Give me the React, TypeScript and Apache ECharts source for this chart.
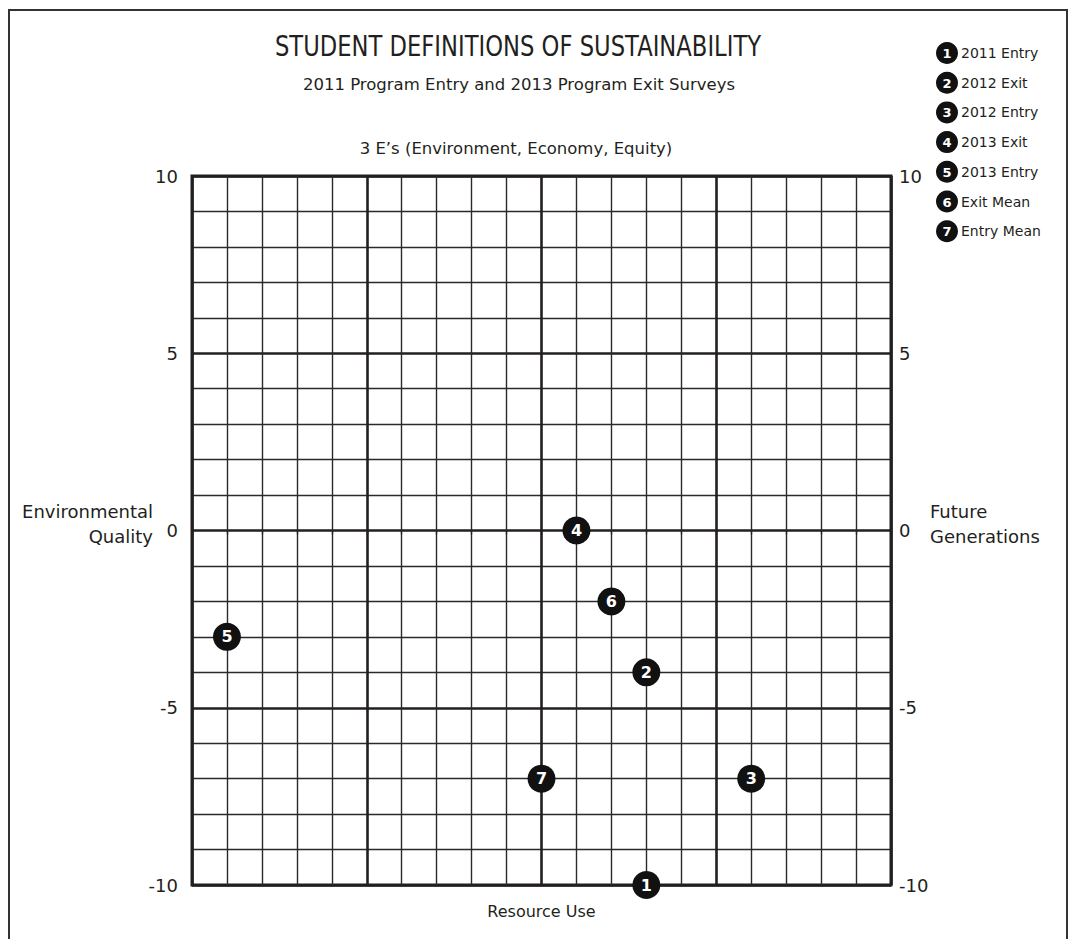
import React, { useEffect, useRef } from "react";
import * as echarts from "echarts";

const pointLabels = ["1", "2", "3", "4", "5", "6", "7"];
const legendNames = ["2011 Entry", "2012 Exit", "2012 Entry", "2013 Exit", "2013 Entry", "Exit Mean", "Entry Mean"];
const xValues = [3, 3, 6, 1, -9, 2, 0];
const yValues = [-10, -4, -7, 0, -3, -2, -7];
const axisMin = -10;
const axisMax = 10;
const majorStep = 5;

const FONT = "DejaVu Sans";
const INK = "#231f20";

export default function App() {
  const ref = useRef<HTMLDivElement>(null);
  useEffect(() => {
    if (!ref.current) return;
    const chart = echarts.init(ref.current, null, { renderer: "svg" });
    const data = xValues.map((x, i) => ({ value: [x, yValues[i]], name: legendNames[i], label: pointLabels[i] }));

    const legendGraphics: any[] = [];
    legendNames.forEach((n, i) => {
      const cy = 53 + i * 29.7;
      legendGraphics.push({ type: "circle", shape: { cx: 947, cy, r: 11 }, style: { fill: "#111" }, z: 10 });
      legendGraphics.push({
        type: "text", x: 947, y: cy + 0.5,
        style: { text: pointLabels[i], fill: "#fff", font: `bold 13px "${FONT}"`, textAlign: "center", textVerticalAlign: "middle" }, z: 11,
      });
      legendGraphics.push({
        type: "text", x: 961, y: cy,
        style: { text: n, fill: INK, font: `14px "${FONT}"`, textAlign: "left", textVerticalAlign: "middle" }, z: 11,
      });
    });

    chart.setOption({
      animation: false,
      backgroundColor: "#fff",
      grid: { left: 192, right: 181, top: 176, bottom: 54, show: true, borderColor: INK, borderWidth: 3, backgroundColor: "transparent" },
      xAxis: {
        type: "value", min: axisMin, max: axisMax, interval: majorStep,
        axisLabel: { show: false },
        axisLine: { show: false },
        axisTick: { show: true, length: 4, lineStyle: { color: INK, width: 1.3 } },
        minorTick: { show: true, splitNumber: 5, length: 4, lineStyle: { color: INK, width: 1.3 } },
        splitLine: { show: true, lineStyle: { color: INK, width: 2.6 } },
        minorSplitLine: { show: true, lineStyle: { color: "#2a2a2a", width: 1.4 } },
        name: "Resource Use", nameLocation: "middle", nameGap: 18,
        nameTextStyle: { fontFamily: FONT, fontSize: 16, color: INK, verticalAlign: "top" },
      },
      yAxis: [
        {
          type: "value", position: "left", min: axisMin, max: axisMax, interval: majorStep,
          axisLabel: { fontFamily: FONT, fontSize: 18, color: INK, margin: 14 },
          axisLine: { show: false }, axisTick: { show: false },
          minorTick: { show: false, splitNumber: 5 },
          splitLine: { show: true, lineStyle: { color: INK, width: 2.6 } },
          minorSplitLine: { show: true, lineStyle: { color: "#2a2a2a", width: 1.4 } },
        },
        {
          type: "value", position: "right", min: axisMin, max: axisMax, interval: majorStep,
          axisLabel: { fontFamily: FONT, fontSize: 18, color: INK, margin: 8 },
          axisLine: { show: false }, axisTick: { show: false }, splitLine: { show: false },
        },
      ],
      graphic: [
        { type: "rect", shape: { x: 9, y: 10, width: 1058, height: 1000 }, style: { fill: "none", stroke: "#333", lineWidth: 2 }, silent: true },
        { type: "text", x: 518, y: 46, scaleX: 0.81, style: { text: "STUDENT DEFINITIONS OF SUSTAINABILITY", fill: INK, font: `28px "${FONT}"`, textAlign: "center", textVerticalAlign: "middle" } },
        { type: "text", x: 519, y: 84, style: { text: "2011 Program Entry and 2013 Program Exit Surveys", fill: INK, font: `16.5px "${FONT}"`, textAlign: "center", textVerticalAlign: "middle" } },
        { type: "text", x: 516, y: 148, style: { text: "3 E\u2019s (Environment, Economy, Equity)", fill: INK, font: `16.5px "${FONT}"`, textAlign: "center", textVerticalAlign: "middle" } },
        { type: "text", x: 153, y: 511, style: { text: "Environmental", fill: INK, font: `18px "${FONT}"`, textAlign: "right", textVerticalAlign: "middle" } },
        { type: "text", x: 153, y: 536, style: { text: "Quality", fill: INK, font: `18px "${FONT}"`, textAlign: "right", textVerticalAlign: "middle" } },
        { type: "text", x: 930, y: 511, style: { text: "Future", fill: INK, font: `18px "${FONT}"`, textAlign: "left", textVerticalAlign: "middle" } },
        { type: "text", x: 930, y: 536, style: { text: "Generations", fill: INK, font: `18px "${FONT}"`, textAlign: "left", textVerticalAlign: "middle" } },
        ...legendGraphics,
      ],
      series: [
        {
          type: "scatter",
          data,
          clip: false,
          symbol: "circle",
          symbolSize: 28,
          itemStyle: { color: "#111", opacity: 1 },
          label: {
            show: true, position: "inside",
            formatter: (p: any) => p.data.label,
            color: "#fff", fontFamily: FONT, fontWeight: "bold", fontSize: 16,
          },
          z: 5,
        },
      ],
    });
    return () => chart.dispose();
  }, []);
  return <div ref={ref} style={{ position: "fixed", left: 0, top: 0, width: 1072, height: 939 }} />;
}
